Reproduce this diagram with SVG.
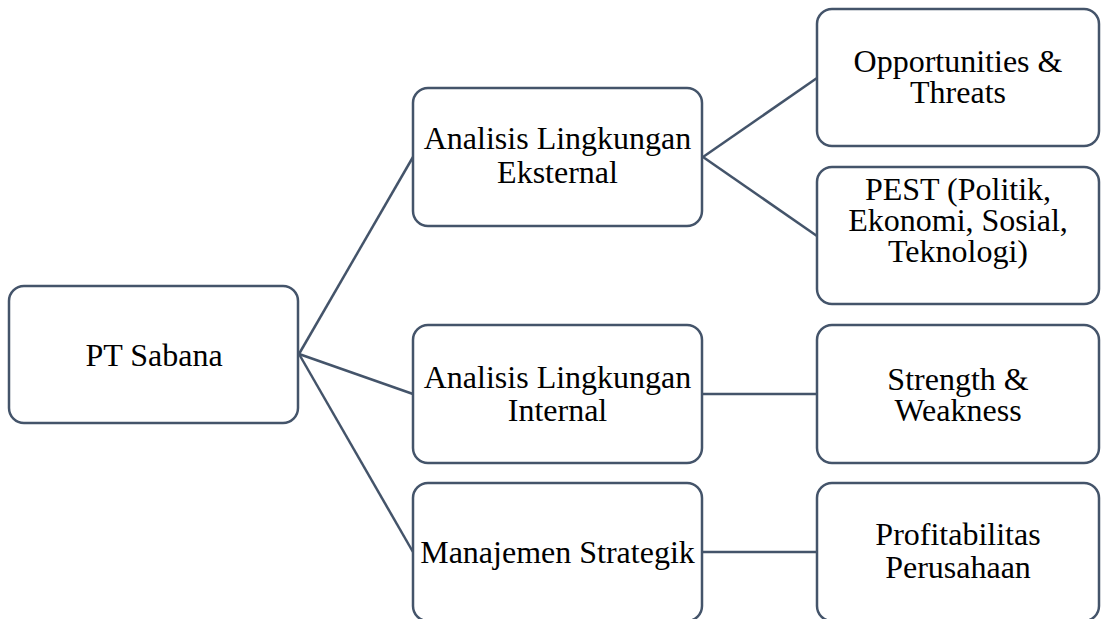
<svg xmlns="http://www.w3.org/2000/svg" width="1102" height="619" viewBox="0 0 1102 619">
<defs>
<style type="text/css">
.box{fill:#ffffff;stroke:#44546A;stroke-width:2.5}
.c{stroke:#44546A;stroke-width:2.5;fill:none}
text{font-family:'Liberation Serif',Tinos,'DejaVu Serif',serif;font-size:32px;fill:#000;text-anchor:middle}
</style>
</defs>
<rect width="1102" height="619" fill="#ffffff"/>
<g id="connectors">
<line class="c" x1="299" y1="354" x2="413" y2="157"/>
<line class="c" x1="299" y1="354" x2="413" y2="394"/>
<line class="c" x1="299" y1="354" x2="413" y2="552"/>
<line class="c" x1="703" y1="157" x2="817" y2="78"/>
<line class="c" x1="703" y1="157" x2="817" y2="236"/>
<line class="c" x1="703" y1="394" x2="817" y2="394"/>
<line class="c" x1="703" y1="552" x2="817" y2="552"/>
</g>
<g id="pt-sabana">
<rect class="box" x="9" y="286" width="289" height="137" rx="15"/>
<text x="154" y="366" font-family="Liberation Serif, serif">PT Sabana</text>
</g>
<g id="eksternal">
<rect class="box" x="413" y="88" width="289" height="138" rx="15"/>
<text x="557.5" y="149" font-family="Liberation Serif, serif">Analisis Lingkungan</text>
<text x="557.5" y="183" font-family="Liberation Serif, serif">Eksternal</text>
</g>
<g id="internal">
<rect class="box" x="413" y="325" width="289" height="138" rx="15"/>
<text x="557.5" y="388" font-family="Liberation Serif, serif">Analisis Lingkungan</text>
<text x="557.5" y="421" font-family="Liberation Serif, serif">Internal</text>
</g>
<g id="manajemen">
<rect class="box" x="413" y="483" width="289" height="138" rx="15"/>
<text x="557.5" y="563" font-family="Liberation Serif, serif">Manajemen Strategik</text>
</g>
<g id="opportunities">
<rect class="box" x="817" y="9" width="282" height="137" rx="15"/>
<text x="958" y="72" font-family="Liberation Serif, serif">Opportunities &amp;</text>
<text x="958" y="103" font-family="Liberation Serif, serif">Threats</text>
</g>
<g id="pest">
<rect class="box" x="817" y="167" width="282" height="137" rx="15"/>
<text x="958" y="200" font-family="Liberation Serif, serif">PEST (Politik,</text>
<text x="958" y="231" font-family="Liberation Serif, serif">Ekonomi, Sosial,</text>
<text x="958" y="262" font-family="Liberation Serif, serif">Teknologi)</text>
</g>
<g id="strength">
<rect class="box" x="817" y="325" width="282" height="138" rx="15"/>
<text x="958" y="390" font-family="Liberation Serif, serif">Strength &amp;</text>
<text x="958" y="421" font-family="Liberation Serif, serif">Weakness</text>
</g>
<g id="profitabilitas">
<rect class="box" x="817" y="483" width="282" height="138" rx="15"/>
<text x="958" y="545" font-family="Liberation Serif, serif">Profitabilitas</text>
<text x="958" y="578" font-family="Liberation Serif, serif">Perusahaan</text>
</g>
</svg>
